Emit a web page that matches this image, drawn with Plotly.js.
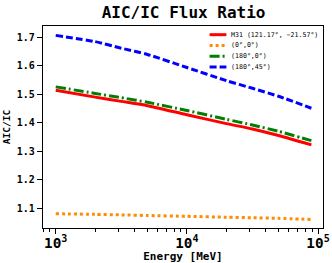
<!DOCTYPE html>
<html><head><meta charset="utf-8">
<script src="https://cdn.plot.ly/plotly-3.0.1.min.js"></script>
<style>html,body{margin:0;padding:0;background:#fff}</style>
</head><body><div id="chart" style="width:332px;height:263px"></div>
<script>
const energy = [1000, 2000, 3162, 5000, 10000, 20000, 31623, 50000, 89000];
const m31 = [1.514, 1.490, 1.475, 1.460, 1.428, 1.397, 1.378, 1.355, 1.322];
const gc = [1.080, 1.078, 1.076, 1.074, 1.071, 1.068, 1.066, 1.064, 1.060];
const anti = [1.526, 1.503, 1.488, 1.472, 1.443, 1.412, 1.392, 1.370, 1.337];
const anti45 = [1.707, 1.685, 1.662, 1.640, 1.594, 1.548, 1.521, 1.493, 1.451];
const names = ["M31 (121.17°, −21.57°)", "(0°,0°)", "(180°,0°)", "(180°,45°)"];
const colors = ["#ff0000", "#ff8c00", "#008000", "#0000ff"];
const dashes = ["solid", "3px,3px", "10px,3px,2px,3px", "7px,3px"];
const series = [m31, gc, anti, anti45];

const mono = "DejaVu Sans Mono, monospace";
const traces = series.map((s, i) => ({
  x: energy, y: s, name: names[i], mode: "lines", showlegend: false,
  line: {color: colors[i], width: 3, dash: dashes[i], shape: "spline", smoothing: 0.6}
}));

// compact legend drawn in paper coordinates
const legY = [0.957, 0.904, 0.850, 0.797];
const shapes = names.map((n, i) => ({
  type: "line", xref: "paper", yref: "paper", x0: 0.595, x1: 0.655, y0: legY[i], y1: legY[i],
  line: {color: colors[i], width: 3, dash: dashes[i]}
}));
const annotations = names.map((n, i) => ({
  xref: "paper", yref: "paper", x: 0.663, y: legY[i], xanchor: "left", yanchor: "middle",
  text: n, showarrow: false, font: {family: mono, size: 6.6, color: "#000"}
}));

const layout = {
  width: 332, height: 263,
  margin: {l: 43, r: 9, t: 26, b: 35},
  paper_bgcolor: "#fff", plot_bgcolor: "#fff",
  title: {text: "<b>AIC/IC Flux Ratio</b>", x: 0.553, xanchor: "center", y: 0.975, yanchor: "top",
          font: {family: mono, size: 16, color: "#000"}},
  xaxis: {type: "log", range: [2.903, 5.038], dtick: 1, exponentformat: "power",
          showgrid: false, zeroline: false, showline: true, linecolor: "#000", linewidth: 1.2, mirror: true,
          ticks: "outside", ticklen: 5, tickwidth: 1, tickcolor: "#000", ticklabelstandoff: -3,
          minor: {ticks: "outside", ticklen: 3, tickcolor: "#000", showgrid: false},
          tickfont: {family: mono, size: 11.5, color: "#000", weight: "bold"},
          title: {text: "<b>Energy [MeV]</b>", font: {family: mono, size: 11, color: "#000"}, standoff: 1}},
  yaxis: {range: [1.03, 1.74], dtick: 0.1, tick0: 1.1, tickformat: ".1f",
          showgrid: false, zeroline: false, showline: true, linecolor: "#000", linewidth: 1.2, mirror: true,
          ticks: "outside", ticklen: 5, tickwidth: 1, tickcolor: "#000",
          tickfont: {family: mono, size: 10, color: "#000", weight: "bold"},
          title: {text: "<b>AIC/IC</b>", font: {family: mono, size: 9.5, color: "#000"}, standoff: 4}},
  shapes: shapes,
  annotations: annotations,
  showlegend: false
};
Plotly.newPlot("chart", traces, layout, {displayModeBar: false, staticPlot: true});
</script></body></html>
